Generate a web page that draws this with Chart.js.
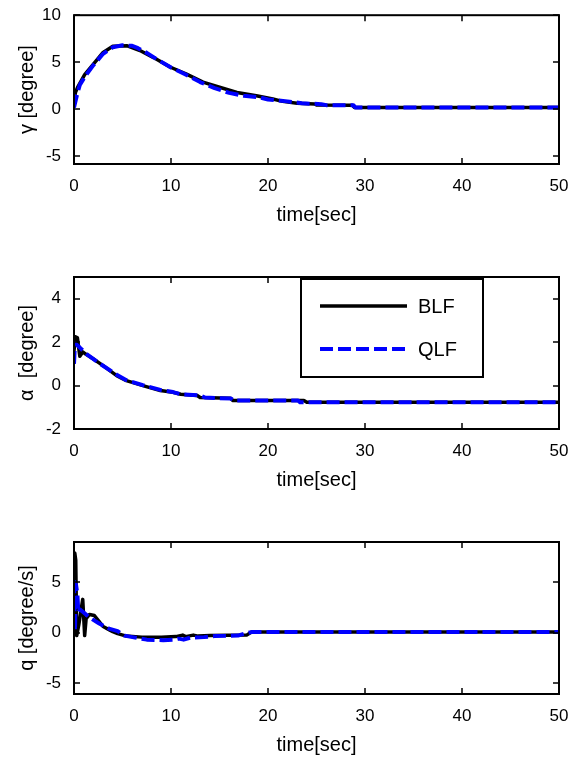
<!DOCTYPE html>
<html>
<head>
<meta charset="utf-8">
<script src="https://cdn.jsdelivr.net/npm/chart.js@4/dist/chart.umd.min.js"></script>
<style>
  html, body { margin: 0; padding: 0; background: #fff; overflow: hidden; }
  body { position: relative; width: 582px; height: 757px; }
  canvas { position: absolute; left: 0; }
</style>
</head>
<body>
<canvas id="gammaChart" width="582" height="230" style="top:0px;width:582px;height:230px"></canvas>
<canvas id="alphaChart" width="582" height="245" style="top:250px;width:582px;height:245px"></canvas>
<canvas id="qChart" width="582" height="260" style="top:500px;width:582px;height:260px"></canvas>
<script>
// ---- data ----
const seriesLabels = ["BLF", "QLF"];
const xLabel = "time[sec]";

// gamma [degree]
const gammaTimeBLF = [0, 0.15, 0.4, 1.1, 2, 3, 4, 5.5, 6.8, 8.2, 9.9, 11.6, 13.3, 15, 16.8, 18.8, 20.5, 21.5, 23, 24.8, 25, 28.7, 28.9, 50];
const gammaBLF     = [0.9, 1.8, 2.4, 3.7, 4.8, 6.05, 6.7, 6.75, 6.25, 5.5, 4.5, 3.75, 2.9, 2.35, 1.8, 1.45, 1.1, 0.85, 0.64, 0.57, 0.47, 0.45, 0.21, 0.2];
const gammaTimeQLF = [0, 0.3, 0.6, 1.2, 2, 3, 4, 5, 6, 6.6, 7.5, 8.5, 10, 11.5, 13, 14.5, 16, 17.5, 19, 20, 22, 23.5, 25.5, 26, 28.8, 29, 50];
const gammaQLF     = [0.2, 1.5, 2.6, 3.6, 4.7, 5.9, 6.6, 6.8, 6.75, 6.5, 6.0, 5.35, 4.45, 3.7, 2.9, 2.25, 1.75, 1.45, 1.3, 1.05, 0.85, 0.65, 0.55, 0.45, 0.45, 0.2, 0.2];

// alpha [degree]
const alphaTimeBLF = [0, 0.15, 0.35, 0.6, 0.9, 1.2, 2, 3, 4.4, 5.4, 7.1, 8.9, 10.2, 11, 12.7, 13, 16.1, 16.4, 23.7, 24, 50];
const alphaBLF     = [1.6, 2.25, 2.2, 1.35, 1.55, 1.45, 1.22, 0.92, 0.46, 0.23, 0.0, -0.23, -0.31, -0.4, -0.46, -0.55, -0.58, -0.69, -0.69, -0.77, -0.77];
const alphaTimeQLF = [0, 0.1, 0.6, 1.3, 2.7, 4.4, 5.4, 7.1, 8.9, 10.2, 11, 13, 13.5, 16.2, 16.5, 23.1, 23.3, 50];
const alphaQLF     = [1.0, 1.95, 1.75, 1.45, 1.0, 0.5, 0.25, 0.02, -0.2, -0.3, -0.4, -0.45, -0.55, -0.6, -0.69, -0.69, -0.77, -0.77];

// q [degree/s]
const qTimeBLF = [0, 0.08, 0.18, 0.28, 0.5, 0.9, 1.1, 1.25, 1.6, 2.1, 2.6, 3.0, 3.6, 4.0, 4.5, 5.4, 7, 9, 10.5, 11.2, 11.5, 12.3, 12.8, 14, 17.8, 18.3, 50];
const qBLF     = [1.5, 7.9, 7.2, -0.3, 0.8, 3.3, -0.3, 1.4, 1.8, 1.7, 1.1, 0.6, 0.3, 0.1, -0.1, -0.35, -0.45, -0.45, -0.4, -0.25, -0.4, -0.25, -0.35, -0.3, -0.25, 0.05, 0.05];
const qTimeQLF = [0, 0.05, 0.1, 0.2, 0.35, 0.45, 0.6, 1.0, 1.6, 2.6, 3.6, 4.5, 5.2, 6.3, 7.5, 9.2, 10.4, 10.8, 11.3, 12, 13.4, 14.5, 16.9, 17.6, 18.3, 50];
const qQLF     = [5.2, 2.5, 0.2, 4.8, 3.8, 2.0, 2.3, 2.0, 1.5, 0.9, 0.4, 0.15, -0.3, -0.5, -0.7, -0.75, -0.7, -0.6, -0.7, -0.5, -0.45, -0.35, -0.3, -0.1, 0.05, 0.05];

const xTicksStep = 10;

const FONT = "'Liberation Sans', Arial, Helvetica, sans-serif";

function pts(ts, vs) {
  return ts.map((t, i) => ({ x: t, y: vs[i] }));
}

// MATLAB style box with inward ticks on all four sides
const matlabBox = {
  id: "matlabBox",
  afterDraw(chart) {
    const ctx = chart.ctx;
    const a = chart.chartArea;
    const xs = chart.scales.x, ys = chart.scales.y;
    ctx.save();
    ctx.strokeStyle = "#000";
    ctx.lineWidth = 1.5;
    ctx.beginPath();
    xs.ticks.forEach((t) => {
      const px = Math.round(xs.getPixelForValue(t.value));
      ctx.moveTo(px, a.bottom); ctx.lineTo(px, a.bottom - 6);
      ctx.moveTo(px, a.top); ctx.lineTo(px, a.top + 6);
    });
    ys.ticks.forEach((t) => {
      const py = Math.round(ys.getPixelForValue(t.value));
      ctx.moveTo(a.left, py); ctx.lineTo(a.left + 6, py);
      ctx.moveTo(a.right, py); ctx.lineTo(a.right - 6, py);
    });
    ctx.stroke();
    ctx.lineWidth = 2;
    ctx.strokeRect(a.left, a.top, a.right - a.left, a.bottom - a.top);
    ctx.restore();
  }
};

// boxed legend inside the axes (only when options.plugins.boxLegend is set)
const boxLegend = {
  id: "boxLegend",
  afterDraw(chart, args, opts) {
    if (!opts || !opts.show) return;
    const ctx = chart.ctx;
    ctx.save();
    ctx.fillStyle = "#fff";
    ctx.fillRect(opts.x, opts.y, opts.w, opts.h);
    ctx.strokeStyle = "#000";
    ctx.lineWidth = 2;
    ctx.strokeRect(opts.x, opts.y, opts.w, opts.h);
    ctx.font = "20px " + FONT;
    ctx.textBaseline = "middle";
    chart.data.datasets.forEach((ds, i) => {
      const yy = opts.y + 27 + i * 43;
      ctx.beginPath();
      ctx.strokeStyle = ds.borderColor;
      ctx.lineWidth = ds.borderWidth;
      ctx.setLineDash(ds.borderDash || []);
      ctx.moveTo(opts.x + 19, yy);
      ctx.lineTo(opts.x + 106, yy);
      ctx.stroke();
      ctx.setLineDash([]);
      ctx.fillStyle = "#000";
      ctx.fillText(ds.label, opts.x + 117, yy + 1);
    });
    ctx.restore();
  }
};

function makeChart(id, yTitle, yMin, yMax, yStep, blfT, blf, qlfT, qlf, padTop, legend) {
  const ctx = document.getElementById(id).getContext("2d");
  return new Chart(ctx, {
    type: "line",
    data: {
      datasets: [
        {
          label: seriesLabels[0],
          data: pts(blfT, blf),
          borderColor: "#000000",
          borderWidth: 3.5,
          borderJoinStyle: "round",
          pointRadius: 0,
          tension: 0,
          order: 2
        },
        {
          label: seriesLabels[1],
          data: pts(qlfT, qlf),
          borderColor: "#0000ff",
          borderWidth: 4,
          borderDash: [13, 5],
          borderJoinStyle: "round",
          pointRadius: 0,
          tension: 0,
          order: 1
        }
      ]
    },
    options: {
      responsive: false,
      animation: false,
      devicePixelRatio: 1,
      layout: { padding: { top: padTop, right: 23, bottom: 0, left: 0 } },
      plugins: {
        legend: { display: false },
        tooltip: { enabled: false },
        boxLegend: legend || { show: false }
      },
      scales: {
        x: {
          type: "linear",
          min: 0,
          max: 50,
          afterFit(scale) { scale.height = 66; },
          grid: { display: false },
          border: { display: false },
          ticks: { stepSize: xTicksStep, includeBounds: false, color: "#000", padding: 4, maxRotation: 0, font: { family: FONT, size: 17 } },
          title: { display: true, text: xLabel, color: "#000", padding: { top: 0, bottom: 3 }, font: { family: FONT, size: 20 } }
        },
        y: {
          type: "linear",
          min: yMin,
          max: yMax,
          afterFit(scale) { scale.width = 74; },
          grid: { display: false },
          border: { display: false },
          ticks: { stepSize: yStep, includeBounds: false, color: "#000", padding: 5, font: { family: FONT, size: 17 } },
          title: { display: true, text: yTitle, color: "#000", padding: { top: 15, bottom: 0 }, font: { family: FONT, size: 20 } }
        }
      }
    },
    plugins: [matlabBox, boxLegend]
  });
}

makeChart("gammaChart", "\u03b3 [degree]", -5.8, 10, 5, gammaTimeBLF, gammaBLF, gammaTimeQLF, gammaQLF, 15);
makeChart("alphaChart", "\u03b1  [degree]", -2, 5, 2, alphaTimeBLF, alphaBLF, alphaTimeQLF, alphaQLF, 27,
  { show: true, x: 301, y: 29, w: 182, h: 98 });
makeChart("qChart", "q [degree/s]", -6.1, 9, 5, qTimeBLF, qBLF, qTimeQLF, qQLF, 42);
</script>
</body>
</html>
